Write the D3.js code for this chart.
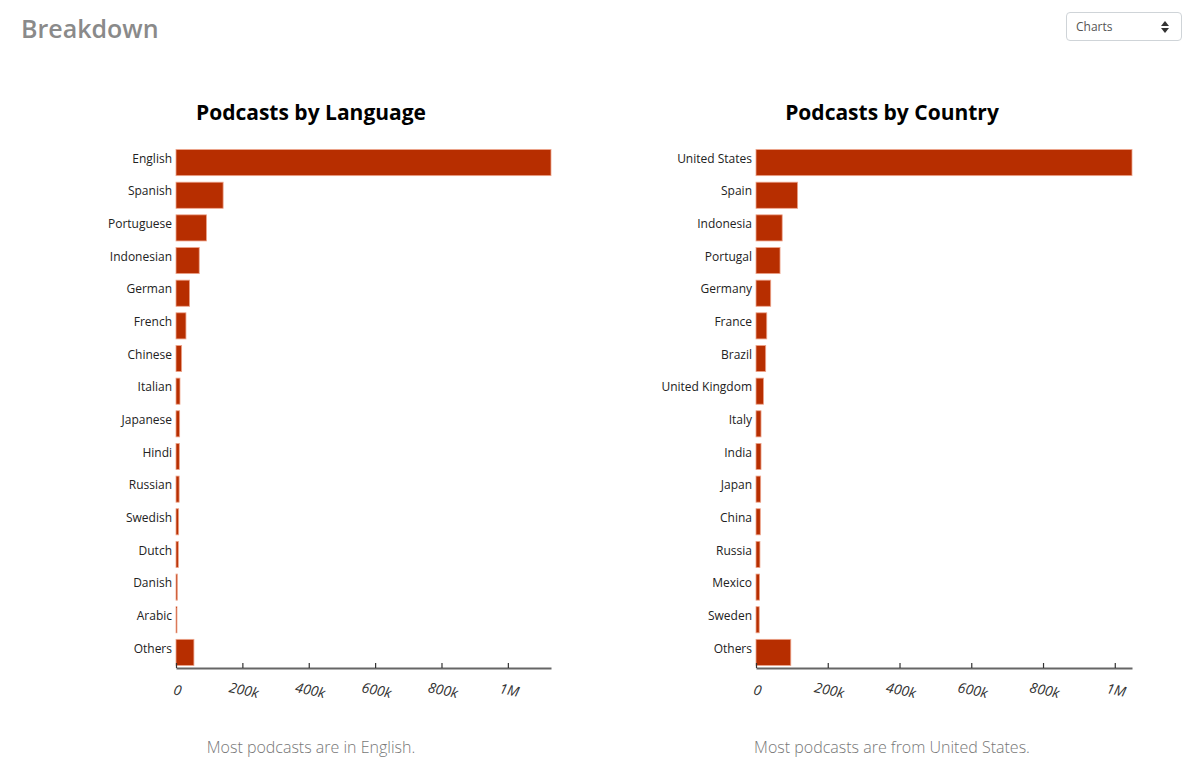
<!DOCTYPE html>
<html>
<head>
<meta charset="utf-8">
<script src="https://cdn.jsdelivr.net/npm/d3@7"></script>
<style>
    body { margin: 0; background: #fff; font-family: "Open Sans", "Noto Sans", sans-serif; }
    #wrap { position: relative; width: 1200px; height: 766px; overflow: hidden; }
    #pick {
        position: absolute; left: 1066px; top: 12px; width: 116px; height: 29px;
        border: 1px solid #cfd4d8; border-radius: 4px; box-sizing: border-box;
        font-size: 12px; color: #555; line-height: 27px; padding-left: 9px;
    }
    #pick .up, #pick .dn { position: absolute; right: 12px; width: 0; height: 0;
        border-left: 4px solid transparent; border-right: 4px solid transparent; }
    #pick .up { top: 8px; border-bottom: 5px solid #333; }
    #pick .dn { top: 15px; border-top: 5px solid #333; }
</style>
</head>
<body>
<div id="wrap">
    <svg id="chart" width="1200" height="766"></svg>
    <div id="pick">Charts<span class="up"></span><span class="dn"></span></div>
</div>
<script>
var languages = ["English", "Spanish", "Portuguese", "Indonesian", "German", "French", "Chinese", "Italian",
    "Japanese", "Hindi", "Russian", "Swedish", "Dutch", "Danish", "Arabic", "Others"];
var languageCounts = [1130000, 142000, 92000, 70000, 41000, 30000, 17000, 12000,
    11000, 10000, 9500, 8000, 7000, 4000, 3000, 54000];

var countries = ["United States", "Spain", "Indonesia", "Portugal", "Germany", "France", "Brazil", "United Kingdom",
    "Italy", "India", "Japan", "China", "Russia", "Mexico", "Sweden", "Others"];
var countryCounts = [1048000, 116000, 73000, 67000, 41000, 30000, 27000, 21000,
    14000, 14000, 13000, 12000, 11000, 10000, 9000, 97000];

var xTicks = [0, 200000, 400000, 600000, 800000, 1000000];

var barFill = "#b72e00",
    barEdge = "#eea58c";

var svg = d3.select("#chart");

// page header
svg.append("text")
    .attr("x", 21)
    .attr("y", 38)
    .style("font-size", "25px")
    .style("font-weight", 600)
    .style("fill", "#8a8a8a")
    .text("Breakdown");

function drawPanel(opts) {
    var g = svg.append("g");

    var x = d3.scaleLinear()
        .domain([0, d3.max(opts.values)])
        .range([opts.x0, opts.x1]);

    var y = d3.scaleBand()
        .domain(opts.names)
        .range([143, 672])
        .padding(0.2);

    g.append("text")
        .attr("x", opts.cx)
        .attr("y", 120)
        .attr("text-anchor", "middle")
        .style("font-size", "21px")
        .style("font-weight", 700)
        .style("fill", "#000")
        .text(opts.title);

    var rows = opts.names.map(function (n, i) { return {name: n, value: opts.values[i]}; });

    g.selectAll("rect.bar")
        .data(rows)
        .enter().append("rect")
        .attr("class", "bar")
        .attr("x", x(0))
        .attr("y", function (d) { return y(d.name); })
        .attr("width", function (d) { return Math.max(1, x(d.value) - x(0)); })
        .attr("height", y.bandwidth())
        .style("fill", barFill)
        .style("stroke", barEdge)
        .style("stroke-width", 0.8);

    g.selectAll("text.lbl")
        .data(rows)
        .enter().append("text")
        .attr("class", "lbl")
        .attr("x", x(0) - 4)
        .attr("y", function (d) { return y(d.name) + y.bandwidth() / 2 - 4; })
        .attr("dy", "0.35em")
        .attr("text-anchor", "end")
        .style("font-size", "12px")
        .style("fill", "#222")
        .text(function (d) { return d.name; });

    var xAxis = d3.axisBottom(x)
        .tickValues(xTicks)
        .tickFormat(d3.format("~s"))
        .tickSizeInner(-5)
        .tickSizeOuter(0);

    var gX = g.append("g")
        .attr("transform", "translate(0,668)")
        .call(xAxis);

    gX.select("path.domain")
        .style("stroke", "#666")
        .style("stroke-width", 2);
    gX.selectAll(".tick line")
        .style("stroke", "#333")
        .style("stroke-width", 1.2);
    gX.selectAll(".tick text")
        .attr("y", 0)
        .attr("dy", 0)
        .attr("text-anchor", "middle")
        .attr("transform", "translate(0,27) rotate(12)")
        .style("font-family", "\"Open Sans\", sans-serif")
        .style("font-size", "14px")
        .style("font-style", "italic")
        .style("fill", "#333");

    g.append("text")
        .attr("x", opts.cx)
        .attr("y", 753)
        .attr("text-anchor", "middle")
        .style("font-size", "16px")
        .style("font-weight", 300)
        .style("fill", "#777")
        .text(opts.note);
}

drawPanel({
    names: languages, values: languageCounts,
    x0: 176, x1: 551, cx: 311,
    title: "Podcasts by Language",
    note: "Most podcasts are in English."
});

drawPanel({
    names: countries, values: countryCounts,
    x0: 756, x1: 1132, cx: 892,
    title: "Podcasts by Country",
    note: "Most podcasts are from United States."
});
</script>
</body>
</html>
